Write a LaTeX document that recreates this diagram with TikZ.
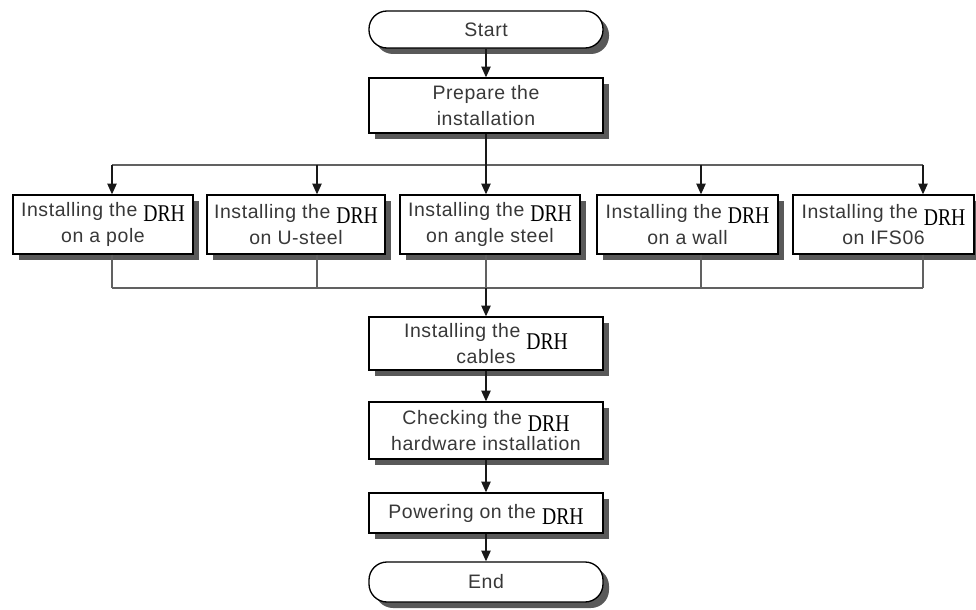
\documentclass[tikz,border=0pt]{standalone}
\usepackage{fontspec}
\setmainfont{Liberation Sans}[LetterSpace=3]
\newfontfamily\drhfont{Liberation Serif}[FakeStretch=0.82]
\usetikzlibrary{arrows.meta,shadows}

\newlength\px
\setlength\px{0.75pt}
\newcommand{\drh}[1][5]{\hspace{6\px}\raisebox{-#1\px}[0pt][0pt]{\fontsize{18pt}{18pt}\drhfont\color{black}DRH}}

\begin{document}
\begin{tikzpicture}[x=0.75pt, y=-0.75pt,
  stepbox/.style={draw, line width=1pt, fill=white, inner sep=0pt, align=center,
    text=black!78, font=\fontsize{14.6pt}{19.5pt}\selectfont,
    drop shadow={shadow xshift=4.5pt, shadow yshift=-4.5pt, fill=black!65, opacity=1}},
  termbox/.style={stepbox, rounded corners=18\px},
  arr/.style={-{Triangle[length=8pt,width=7pt]}, line width=0.9pt, black!90},
  bar/.style={line width=1.3pt, black!62}]
  \useasboundingbox (0,0) rectangle (976,610);
  % start and preparation
  \node[termbox, minimum width=234\px, minimum height=37\px] (start) at (486,29.5) {Start};
  \node[stepbox, minimum width=234\px, minimum height=55\px] (prep) at (486,105.5) {Prepare the\\installation};
  % the five ways of mounting
  \node[stepbox, minimum width=180\px, minimum height=59\px] (b1) at (103,224.5) {Installing the\drh\\on a pole};
  \node[stepbox, minimum width=178\px, minimum height=59\px] (b2) at (296,224.5) {Installing the\drh\\on U-steel};
  \node[stepbox, minimum width=180\px, minimum height=59\px] (b3) at (490,224.5) {Installing the\drh\\on angle steel};
  \node[stepbox, minimum width=181\px, minimum height=59\px] (b4) at (687.5,224.5) {Installing the\drh\\on a wall};
  \node[stepbox, minimum width=181\px, minimum height=59\px] (b5) at (883.5,224.5) {Installing the\drh[7]\\on IFS06};
  % after mounting
  \node[stepbox, minimum width=234\px, minimum height=53\px] (cab) at (486,343.5) {Installing the\drh[12]\\cables};
  \node[stepbox, minimum width=234\px, minimum height=57\px] (chk) at (486,430.5) {Checking the\drh[7]\\hardware installation};
  \node[stepbox, minimum width=234\px, minimum height=40\px] (pow) at (486,513) {Powering on the\drh[6]};
  \node[termbox, minimum width=234\px, minimum height=40\px] (stop) at (486,582) {End};
  % branch and join points
  \coordinate (t1) at (112,165);
  \coordinate (t2) at (317,165);
  \coordinate (t3) at (486,165);
  \coordinate (t4) at (701,165);
  \coordinate (t5) at (923,165);
  \coordinate (u1) at (112,288);
  \coordinate (u2) at (317,288);
  \coordinate (u3) at (486,288);
  \coordinate (u4) at (701,288);
  \coordinate (u5) at (923,288);
  % connectors
  \draw[arr] (start) -- (prep);
  \draw[bar] (t1) -- (t5);
  \draw[bar] (u1) -- (u5);
  \draw[arr] (prep.south) -- (t3 |- b3.north);
  \foreach \i in {1,2,4,5}
    \draw[arr] (t\i) -- (t\i |- b\i.north);
  \foreach \i in {1,...,5}
    \draw[bar] (b\i.south -| u\i) -- (u\i);
  \draw[arr] (u3) -- (cab);
  \draw[arr] (cab) -- (chk);
  \draw[arr] (chk) -- (pow);
  \draw[arr] (pow) -- (stop);
\end{tikzpicture}
\end{document}
